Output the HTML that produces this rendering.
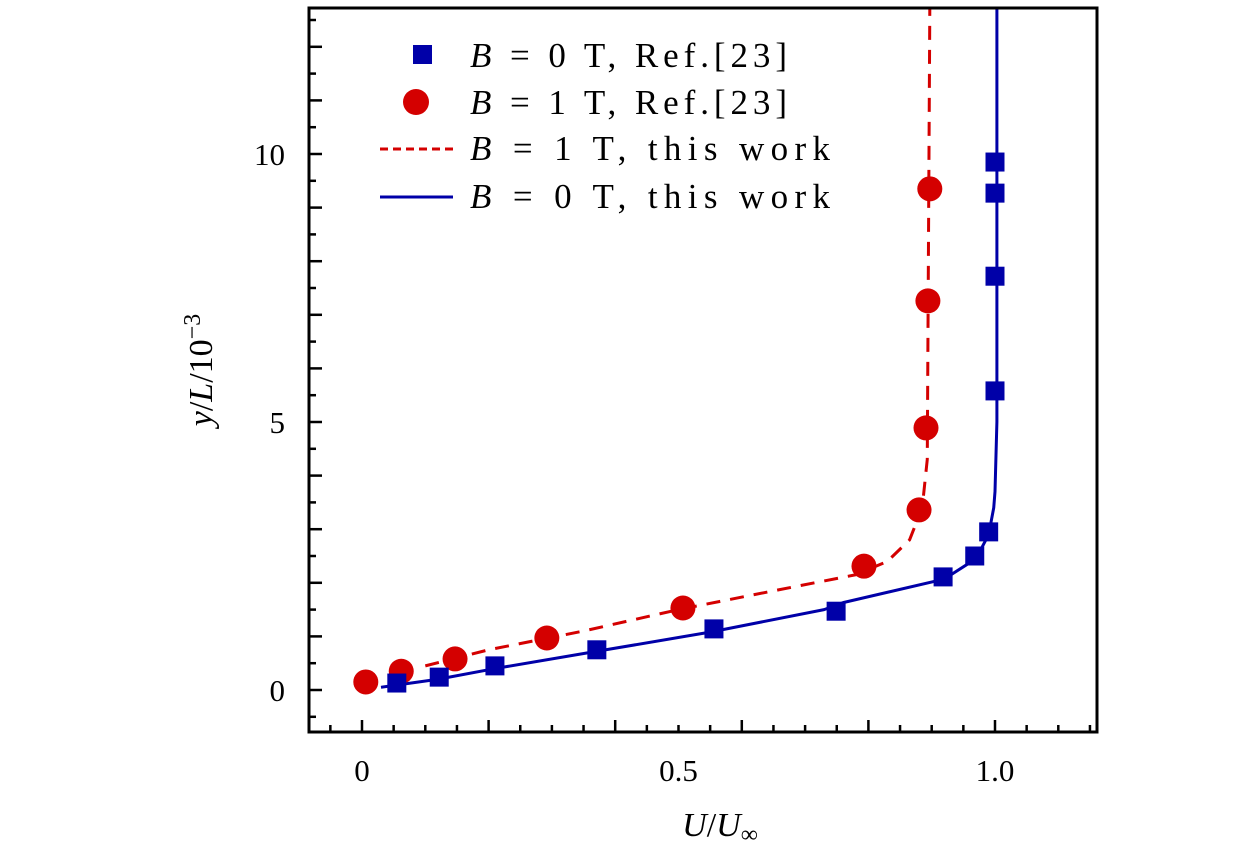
<!DOCTYPE html>
<html><head><meta charset="utf-8"><style>
body{margin:0;background:#fff;}
svg{display:block;font-family:"Liberation Serif",serif;}
</style></head><body>
<svg id="chart" width="1260" height="858" viewBox="0 0 1260 858">
<g id="ticks"></g>
<g id="series"></g>
<rect x="309" y="8" width="788" height="724" fill="none" stroke="#000" stroke-width="3"/>
<g id="labels" font-size="31"></g>
<text x="720" y="836" font-size="34" text-anchor="middle"><tspan font-style="italic">U</tspan>/<tspan font-style="italic">U</tspan><tspan font-size="24" dy="6">∞</tspan></text>
<text transform="translate(212,370) rotate(-90)" font-size="34" text-anchor="middle"><tspan font-style="italic">y</tspan>/<tspan font-style="italic">L</tspan>/10<tspan font-size="24" dy="-12">−3</tspan></text>
<g id="legend" font-size="35">
<rect x="413" y="45" width="19" height="19" fill="#0000a8"/>
<text x="470" y="67" textLength="317" lengthAdjust="spacing"><tspan font-style="italic">B</tspan> = 0 T, Ref.[23]</text>
<circle cx="416" cy="102" r="13" fill="#d40000"/>
<text x="470" y="114" textLength="317" lengthAdjust="spacing"><tspan font-style="italic">B</tspan> = 1 T, Ref.[23]</text>
<line x1="380" y1="149" x2="453" y2="149" stroke="#d40000" stroke-width="3" stroke-dasharray="8,5"/>
<text x="470" y="160" textLength="360" lengthAdjust="spacing"><tspan font-style="italic">B</tspan> = 1 T, this work</text>
<line x1="380" y1="197" x2="453" y2="197" stroke="#0000a8" stroke-width="3"/>
<text x="470" y="208" textLength="360" lengthAdjust="spacing"><tspan font-style="italic">B</tspan> = 0 T, this work</text>
</g>
</svg>
<script>
const blueX=[0.055,0.122,0.210,0.371,0.556,0.749,0.918,0.968,0.990,1.0,1.0,1.0,1.0];
const blueY=[0.13,0.24,0.45,0.75,1.14,1.47,2.11,2.5,2.95,5.58,7.72,9.27,9.85];
const redX=[0.006,0.062,0.147,0.292,0.507,0.793,0.880,0.891,0.894,0.897];
const redY=[0.15,0.35,0.58,0.97,1.53,2.31,3.36,4.89,7.26,9.35];
const blueLineX=[0.03,0.12,0.21,0.37,0.55,0.73,0.76,0.92,0.97,0.99,0.998,1.0,1.003,1.003];
const blueLineY=[0.05,0.2,0.4,0.72,1.08,1.5,1.63,2.07,2.45,2.9,3.4,3.7,5,13];
const redLineX=[0.1,0.2,0.35,0.5,0.65,0.78,0.83,0.865,0.885,0.893,0.897];
const redLineY=[0.45,0.75,1.1,1.5,1.85,2.15,2.4,2.8,3.4,4.3,13];
const xTickLabels=["0","0.5","1.0"];
const xTickVals=[0,0.5,1.0];
const yTickLabels=["0","5","10"];
const yTickVals=[0,5,10];
const NS="http://www.w3.org/2000/svg";
function sx(v){return 362+v*633;}
function sy(v){return 690-v*53.6;}
function mk(tag,attrs,parent){const e=document.createElementNS(NS,tag);for(const k in attrs)e.setAttribute(k,attrs[k]);document.getElementById(parent).appendChild(e);return e;}
for(let i=-1;i<=23;i++){const v=i*0.05;const x=sx(v);if(x<311||x>1095)continue;
 const major=Math.abs(Math.round(v*10)/10-v)<1e-6 && (Math.round(v*10)%2===0);
 const t=mk('line',{x1:x,x2:x,y1:732,y2:major?720:725,stroke:'#000','stroke-width':2.5},'ticks');
 
 }
for(let i=-1;i<=25;i++){const v=i*0.5;const y=sy(v);if(y<10||y>730)continue;
 const major=i%2===0;
 const t=mk('line',{x1:309,x2:major?322:316,y1:y,y2:y,stroke:'#000','stroke-width':2.5},'ticks');
 
 }
xTickVals.forEach((v,i)=>{const t=mk('text',{x:sx(v),y:781,'text-anchor':'middle'},'labels');t.textContent=xTickLabels[i];
 
 });
yTickVals.forEach((v,i)=>{const t=mk('text',{x:285,y:sy(v)+11,'text-anchor':'end'},'labels');t.textContent=yTickLabels[i];
 
 });
function pts(xs,ys){return xs.map((x,i)=>sx(x)+','+Math.max(9,sy(ys[i]))).join(' ');}
const rl=mk('polyline',{points:pts(redLineX,redLineY),fill:'none',stroke:'#d40000','stroke-width':3,'stroke-dasharray':'14,10','stroke-linejoin':'round'},'series');


const bl=mk('polyline',{points:pts(blueLineX,blueLineY),fill:'none',stroke:'#0000a8','stroke-width':3,'stroke-linejoin':'round'},'series');


redX.forEach((v,i)=>{const c=mk('circle',{cx:sx(v),cy:sy(redY[i]),r:12.5,fill:'#d40000'},'series');
 
 });
blueX.forEach((v,i)=>{const r=mk('rect',{x:sx(v)-9.5,y:sy(blueY[i])-9.5,width:19,height:19,fill:'#0000a8'},'series');
 
 });
</script>
</body></html>
